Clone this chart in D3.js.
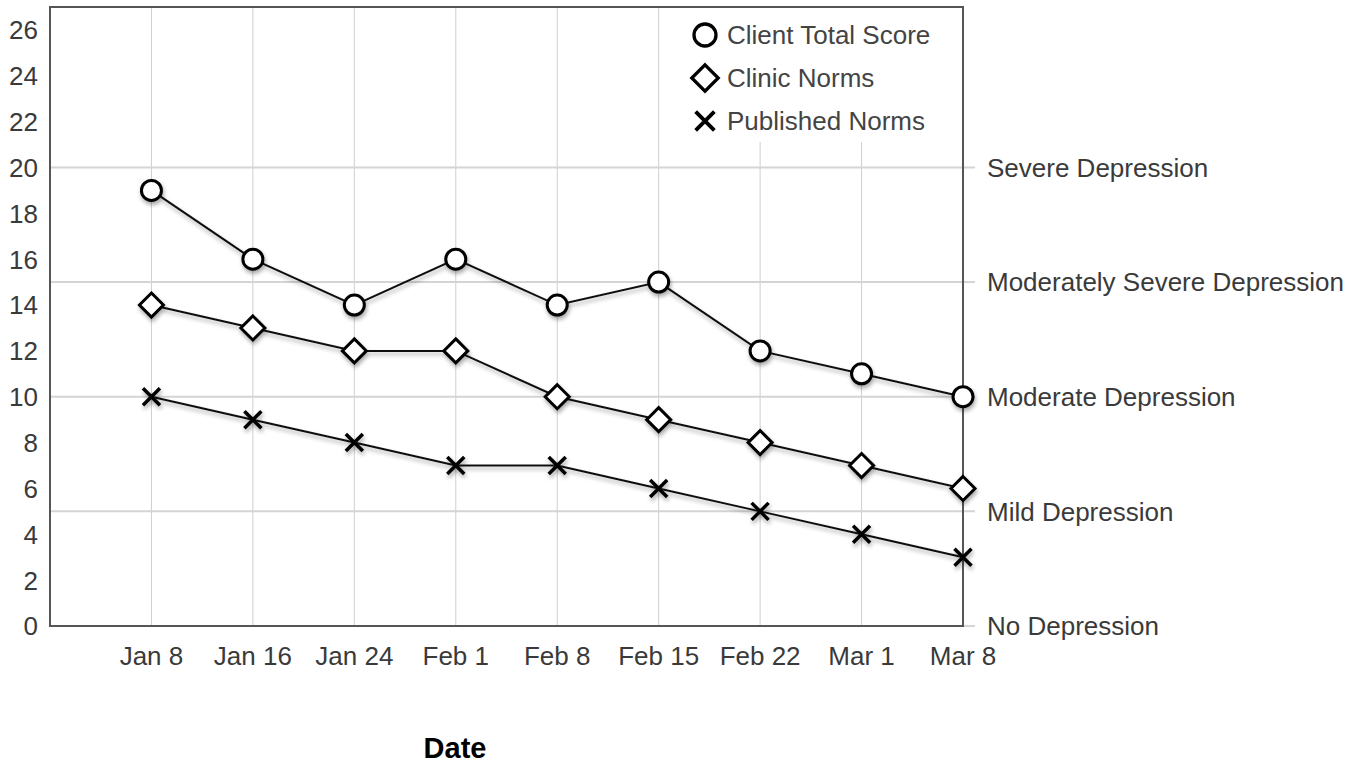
<html>
<head>
    <meta charset="utf-8">
    <title>Depression Score Chart</title>
    <style>
        body { margin: 0; background: #fff; }
        text { font-family: "Liberation Sans", Arial, sans-serif; }
    </style>
</head>
<body>
    <script src="https://cdn.jsdelivr.net/npm/d3@7"></script>
    <script>
        var width = 1371, height = 766;

        const dates = ["Jan 8", "Jan 16", "Jan 24", "Feb 1", "Feb 8", "Feb 15", "Feb 22", "Mar 1", "Mar 8"];
        const clientScore = [19, 16, 14, 16, 14, 15, 12, 11, 10];
        const clinicNorms = [14, 13, 12, 12, 10, 9, 8, 7, 6];
        const publishedNorms = [10, 9, 8, 7, 7, 6, 5, 4, 3];
        const leftTicks = d3.range(0, 27, 2);
        const levelValues = [0, 5, 10, 15, 20];
        const levelNames = ["No Depression", "Mild Depression", "Moderate Depression", "Moderately Severe Depression", "Severe Depression"];

        var series = [
            { name: "Client Total Score", values: clientScore, symbol: "circle" },
            { name: "Clinic Norms", values: clinicNorms, symbol: "diamond" },
            { name: "Published Norms", values: publishedNorms, symbol: "cross" }
        ];

        // 注意：不能用 top 作变量名（window.top）
        var pLeft = 50, pRight = 963, pTop = 7, pBottom = 626;

        var svg = d3.select("body").append("svg")
            .attr("width", width)
            .attr("height", height);

        // 第一个位置留空，所以从 -1 开始
        var x = d3.scaleLinear().domain([-1, dates.length - 1]).range([pLeft, pRight]);
        var y = d3.scaleLinear().domain([0, 27]).range([pBottom, pTop]);

        // 阴影
        var defs = svg.append("defs");
        var f = defs.append("filter").attr("id", "shadow")
            .attr("x", "-20%").attr("y", "-20%").attr("width", "140%").attr("height", "160%");
        f.append("feGaussianBlur").attr("in", "SourceAlpha").attr("stdDeviation", 2).attr("result", "blur");
        f.append("feOffset").attr("in", "blur").attr("dx", 1).attr("dy", 3).attr("result", "off");
        f.append("feComponentTransfer").attr("in", "off").attr("result", "off2")
            .append("feFuncA").attr("type", "linear").attr("slope", 0.35);
        var fm = f.append("feMerge");
        fm.append("feMergeNode").attr("in", "off2");
        fm.append("feMergeNode").attr("in", "SourceGraphic");

        // 竖网格线
        svg.append("g").selectAll("line")
            .data(dates)
            .enter().append("line")
            .attr("x1", (d, i) => x(i)).attr("x2", (d, i) => x(i))
            .attr("y1", pTop).attr("y2", pBottom)
            .attr("stroke", "#cfcfcf").attr("stroke-width", 1);

        // 横线 + 右侧刻度
        svg.append("g").selectAll("line")
            .data(levelValues)
            .enter().append("line")
            .attr("x1", pLeft).attr("x2", pRight + 12)
            .attr("y1", d => y(d)).attr("y2", d => y(d))
            .attr("stroke", "#d4d4d4").attr("stroke-width", 2);

        // 图例背景
        var legend = svg.append("g");
        legend.append("rect")
            .attr("x", 684).attr("y", pTop + 1)
            .attr("width", pRight - 685).attr("height", 134)
            .attr("fill", "#fff");

        // 外框
        svg.append("rect")
            .attr("x", pLeft).attr("y", pTop)
            .attr("width", pRight - pLeft).attr("height", pBottom - pTop)
            .attr("fill", "none").attr("stroke", "#555").attr("stroke-width", 2);

        // 左侧刻度
        svg.append("g").selectAll("text")
            .data(leftTicks)
            .enter().append("text")
            .attr("x", 38).attr("y", d => y(d))
            .attr("dy", "0.36em")
            .attr("text-anchor", "end")
            .attr("font-size", 26)
            .attr("fill", "#3a3a3a")
            .text(d => d);

        // 右侧标签
        svg.append("g").selectAll("text")
            .data(levelValues)
            .enter().append("text")
            .attr("x", 987).attr("y", d => y(d))
            .attr("dy", "0.36em")
            .attr("font-size", 26)
            .attr("fill", "#3a3a3a")
            .text((d, i) => levelNames[i]);

        // x 轴标签
        svg.append("g").selectAll("text")
            .data(dates)
            .enter().append("text")
            .attr("x", (d, i) => x(i)).attr("y", 665)
            .attr("text-anchor", "middle")
            .attr("font-size", 26)
            .attr("fill", "#3a3a3a")
            .text(d => d);

        svg.append("text")
            .attr("x", 455).attr("y", 758)
            .attr("text-anchor", "middle")
            .attr("font-size", 29)
            .attr("font-weight", "bold")
            .attr("fill", "#000")
            .text("Date");

        function drawSymbol(g, type, cx, cy, k) {
            k = k || 1;
            if (type === "circle") {
                g.append("circle").attr("cx", cx).attr("cy", cy).attr("r", 10 * k)
                    .attr("fill", "#fff").attr("stroke", "#000").attr("stroke-width", 3 * k);
            } else if (type === "diamond") {
                var r = 12 * k;
                g.append("path")
                    .attr("d", `M${cx},${cy - r}L${cx + r},${cy}L${cx},${cy + r}L${cx - r},${cy}Z`)
                    .attr("fill", "#fff").attr("stroke", "#000").attr("stroke-width", 3 * k);
            } else {
                var s = 8.5 * k;
                g.append("path")
                    .attr("d", `M${cx - s},${cy - s}L${cx + s},${cy + s}M${cx + s},${cy - s}L${cx - s},${cy + s}`)
                    .attr("stroke", "#000").attr("stroke-width", 3.5 * k).attr("fill", "none");
            }
        }

        var line = d3.line()
            .x((d, i) => x(i))
            .y(d => y(d));

        series.forEach(function (s) {
            var g = svg.append("g").attr("filter", "url(#shadow)");
            g.append("path")
                .datum(s.values)
                .attr("d", line)
                .attr("fill", "none")
                .attr("stroke", "#111")
                .attr("stroke-width", 2);
            s.values.forEach(function (v, i) {
                drawSymbol(g, s.symbol, x(i), y(v));
            });
        });

        // 图例
        series.forEach(function (s, i) {
            var ly = 35 + i * 43;
            drawSymbol(legend, s.symbol, 705, ly, 1.1);
            legend.append("text")
                .attr("x", 727).attr("y", ly)
                .attr("dy", "0.36em")
                .attr("font-size", 26)
                .attr("fill", "#444")
                .text(s.name);
        });
    </script>
</body>
</html>
